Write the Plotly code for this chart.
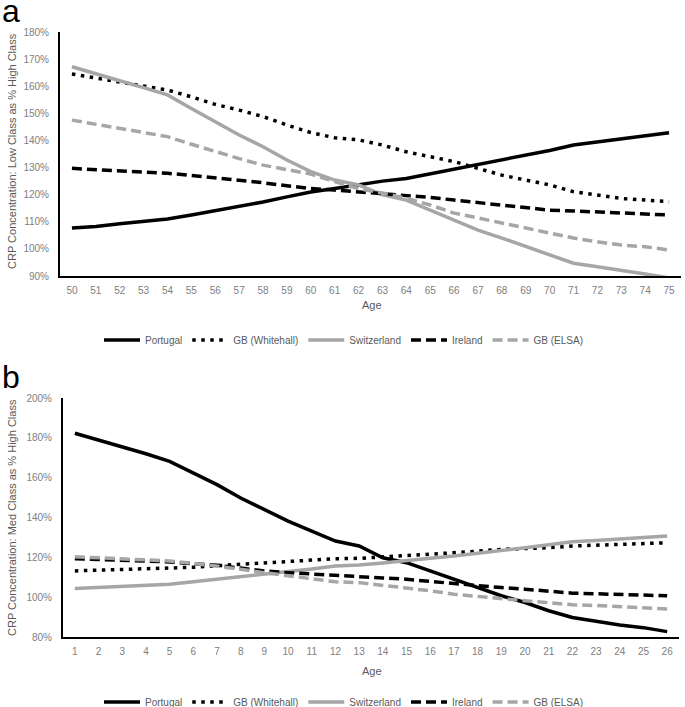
import plotly.graph_objects as go

# ---------------- data ----------------
ages_a = list(range(50, 76))
portugal_a = [107.7,108.3,109.3,110.0,111.0,112.5,114.0,115.7,117.3,119.2,121.0,122.3,123.8,125.0,126.0,127.7,129.3,131.0,132.8,134.6,136.3,138.3,139.5,140.5,141.7,142.8]
whitehall_a = [164.5,163.0,161.5,160.0,158.6,156.1,153.3,151.2,148.8,145.7,142.9,141.0,140.2,138.3,135.8,134.0,132.2,129.7,127.2,125.4,123.6,121.1,119.9,118.6,118.0,117.4]
switzerland_a = [167.2,164.5,162.0,159.5,156.8,151.8,146.9,142.0,137.7,132.8,128.5,125.4,123.6,119.9,118.0,114.3,110.6,106.9,104.0,100.8,97.7,94.7,93.4,92.2,90.7,89.3]
ireland_a = [129.7,129.3,128.8,128.4,127.9,127.1,126.3,125.4,124.4,123.3,122.3,121.7,121.1,120.5,119.9,119.0,118.0,117.1,116.2,115.2,114.3,114.0,113.7,113.3,112.9,112.5]
elsa_a = [147.5,146.0,144.5,143.0,141.4,138.6,135.8,133.3,130.9,129.4,127.6,124.8,122.2,120.6,118.7,116.2,113.2,111.4,109.5,107.6,105.8,104.0,102.6,101.4,100.8,99.6]

ages_b = list(range(1, 27))
portugal_b = [182.3,179.0,175.6,172.0,168.2,162.2,156.5,149.8,144.0,138.2,133.2,128.2,125.7,119.8,117.3,113.2,109.0,104.8,100.7,97.3,93.2,89.8,87.7,86.0,84.7,82.7]
whitehall_b = [113.2,113.5,113.8,114.0,114.3,115.0,115.8,116.5,117.3,118.2,118.7,119.3,119.5,120.1,120.7,121.5,122.3,123.1,124.0,124.4,124.8,125.7,126.1,126.5,126.9,127.3]
switzerland_b = [104.3,104.9,105.4,106.0,106.5,107.7,109.0,110.3,111.5,112.5,114.1,115.7,116.2,117.2,118.2,119.5,120.7,122.0,123.2,124.8,126.3,127.8,128.5,129.3,130.0,130.7]
ireland_b = [119.3,118.9,118.5,118.1,117.7,116.8,116.0,114.6,113.2,112.3,111.5,110.7,110.3,109.6,109.0,107.9,106.8,105.8,104.8,104.0,103.0,102.0,101.7,101.3,101.0,100.7]
elsa_b = [120.3,119.8,119.2,118.7,118.2,117.0,115.7,114.0,112.3,110.7,109.0,107.7,107.3,106.0,104.8,103.2,101.5,100.3,99.3,98.2,97.2,96.2,95.8,95.3,94.7,94.0]

series_names = ["Portugal", "GB (Whitehall)", "Switzerland", "Ireland", "GB (ELSA)"]
styles = [
    dict(color="#000000", width=3.5, dash="solid"),
    dict(color="#000000", width=3.5, dash="3.5px,5.5px"),
    dict(color="#a6a6a6", width=3.5, dash="solid"),
    dict(color="#000000", width=3.5, dash="10px,5px"),
    dict(color="#a6a6a6", width=3.5, dash="10px,5px"),
]

FONT = "Liberation Sans, Arial"
TICK_C = "#808080"
TITLE_C = "#595959"

fig = go.Figure()

data_a = [portugal_a, whitehall_a, switzerland_a, ireland_a, elsa_a]
data_b = [portugal_b, whitehall_b, switzerland_b, ireland_b, elsa_b]

for name, ys, st in zip(series_names, data_a, styles):
    fig.add_trace(go.Scatter(x=ages_a, y=ys, mode="lines", name=name, line=st,
                             xaxis="x", yaxis="y", legend="legend"))
for name, ys, st in zip(series_names, data_b, styles):
    fig.add_trace(go.Scatter(x=ages_b, y=ys, mode="lines", name=name, line=st,
                             xaxis="x2", yaxis="y2", legend="legend2"))

W, H = 685, 707
def px_x(p): return p / W
def px_y(p): return 1 - p / H

axis_common = dict(showgrid=False, zeroline=False, showline=True, linecolor="#000000",
                   linewidth=2, tickfont=dict(family=FONT, size=10, color=TICK_C),
                   ticks="", fixedrange=True, automargin=False)

legend_common = dict(orientation="h", x=px_x(344), xanchor="center", yanchor="middle",
                     font=dict(family=FONT, size=10, color=TITLE_C), itemwidth=36,
                     bgcolor="rgba(0,0,0,0)", tracegroupgap=0)

fig.update_layout(
    template="none",
    width=W, height=H,
    margin=dict(l=0, r=0, t=0, b=0, autoexpand=False),
    paper_bgcolor="white", plot_bgcolor="white",
    font=dict(family=FONT, color=TITLE_C),
    xaxis=dict(domain=[px_x(60), px_x(681)], anchor="y", range=[49.5, 75.5],
               tickmode="array", tickvals=ages_a, ticktext=[str(a) for a in ages_a],
               ticklabelstandoff=4, **axis_common),
    yaxis=dict(domain=[px_y(276), px_y(32)], anchor="x", range=[90, 180],
               tickmode="linear", tick0=90, dtick=10, ticksuffix="%",
               ticklabelstandoff=7, **axis_common),
    xaxis2=dict(domain=[px_x(63), px_x(679)], anchor="y2", range=[0.5, 26.5],
                tickmode="array", tickvals=ages_b, ticktext=[str(a) for a in ages_b],
                ticklabelstandoff=4, **axis_common),
    yaxis2=dict(domain=[px_y(637), px_y(398)], anchor="x2", range=[80, 200],
                tickmode="linear", tick0=80, dtick=20, ticksuffix="%",
                ticklabelstandoff=7, **axis_common),
    legend=dict(y=px_y(340), **legend_common),
    legend2=dict(y=px_y(702), **legend_common),
    showlegend=True,
)

annotations = [
    dict(text="a", x=px_x(0), y=px_y(11), xref="paper", yref="paper", xanchor="left", yanchor="middle",
         showarrow=False, font=dict(family="Liberation Sans, Arial", size=32, color="#000000")),
    dict(text="b", x=px_x(0), y=px_y(377), xref="paper", yref="paper", xanchor="left", yanchor="middle",
         showarrow=False, font=dict(family="Liberation Sans, Arial", size=32, color="#000000")),
    dict(text="CRP Concentration: Low Class as % High Class", x=px_x(12), y=px_y(151),
         xref="paper", yref="paper", xanchor="center", yanchor="middle", textangle=-90,
         showarrow=False, font=dict(family=FONT, size=11, color=TITLE_C)),
    dict(text="CRP Concentration: Med Class as % High Class", x=px_x(12), y=px_y(518),
         xref="paper", yref="paper", xanchor="center", yanchor="middle", textangle=-90,
         showarrow=False, font=dict(family=FONT, size=11, color=TITLE_C)),
    dict(text="Age", x=px_x(372), y=px_y(305), xref="paper", yref="paper",
         xanchor="center", yanchor="middle", showarrow=False,
         font=dict(family=FONT, size=11, color=TITLE_C)),
    dict(text="Age", x=px_x(372), y=px_y(671), xref="paper", yref="paper",
         xanchor="center", yanchor="middle", showarrow=False,
         font=dict(family=FONT, size=11, color=TITLE_C)),
]
fig.update_layout(annotations=annotations)

# remove the browser's default 8px body margin so the figure sits at the window origin
fig.write_html("out.html", config={"displayModeBar": False},
               post_script="document.body.style.margin='0';")
